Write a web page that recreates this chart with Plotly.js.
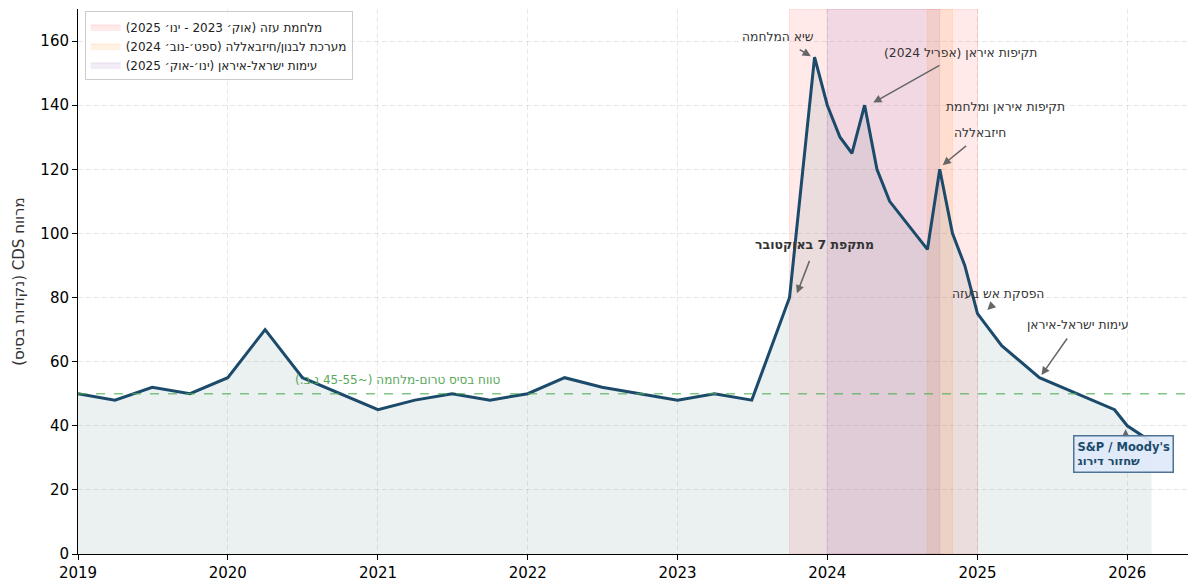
<!DOCTYPE html>
<html>
<head>
<meta charset="utf-8">
<script src="https://cdn.plot.ly/plotly-3.0.1.min.js"></script>
<style>html,body{margin:0;padding:0;background:#fff;}#chart{width:1191px;height:585px;}</style>
</head>
<body>
<div id="chart"></div>
<script>
// ---- data ----
const dates = ['2019-01-01','2019-04-01','2019-07-01','2019-10-01','2020-01-01','2020-04-01','2020-07-01','2020-10-01',
  '2021-01-01','2021-04-01','2021-07-01','2021-10-01','2022-01-01','2022-04-01','2022-07-01','2022-10-01',
  '2023-01-01','2023-04-01','2023-07-01','2023-10-01','2023-12-01','2024-01-01','2024-02-01','2024-03-01',
  '2024-04-01','2024-05-01','2024-06-01','2024-09-01','2024-10-01','2024-11-01','2024-12-01','2025-01-01',
  '2025-03-01','2025-06-01','2025-09-01','2025-12-01','2026-01-01','2026-03-01'];
const cdsValues = [50,48,52,50,55,70,55,50,45,48,50,48,50,55,52,50,48,50,48,80,155,140,130,125,140,120,110,95,120,100,90,75,65,55,50,45,40,35];

const bandNames = ['מלחמת עזה (אוק׳ 2023 - ינו׳ 2025)', 'מערכת לבנון/חיזבאללה (ספט׳-נוב׳ 2024)', 'עימות ישראל-איראן (ינו׳-אוק׳ 2025)'];
const bandStart = ['2023-10-01', '2024-09-01', '2024-01-01'];
const bandEnd = ['2025-01-01', '2024-11-01', '2024-10-01'];

const baselineValue = 50;
const baselineLabel = 'טווח בסיס טרום-מלחמה (~45-55 נ.ב.)';
const yTitle = 'מרווח CDS (נקודות בסיס)';
const yTicks = [0,20,40,60,80,100,120,140,160];

const notes = [
  {text: 'שיא המלחמה', x: '2023-09-03', y: 161.3},
  {text: 'תקיפות איראן (אפריל 2024)', x: '2024-11-20', y: 156.3},
  {text: 'תקיפות איראן ומלחמת', x: '2025-03-10', y: 139.4},
  {text: 'חיזבאללה', x: '2025-01-08', y: 131.3},
  {text: 'מתקפת 7 באוקטובר', x: '2023-12-02', y: 96.4, bold: true},
  {text: 'הפסקת אש בעזה', x: '2025-02-21', y: 81.1},
  {text: 'עימות ישראל-איראן', x: '2025-09-02', y: 71.4}
];
const arrows = [
  {ax: '2023-10-22', ay: 157.6, x: '2023-11-22', y: 155.3},
  {ax: '2024-10-04', ay: 152.7, x: '2024-04-22', y: 140.8},
  {ax: '2024-12-08', ay: 127.7, x: '2024-10-08', y: 121.3},
  {ax: '2023-11-20', ay: 91.9, x: '2023-10-19', y: 81.3},
  {ax: '2025-02-06', ay: 77.6, x: '2025-01-25', y: 76.1},
  {ax: '2025-08-10', ay: 67.7, x: '2025-06-06', y: 55.8},
  {ax: '2025-12-28', ay: 36.0, x: '2025-12-28', y: 38.9}
];
const ratingBox = {line1: "S&P / Moody's", line2: 'שחזור דירוג', x: '2025-12-22', y: 31.3};

// ---- styling ----
const rtl = s => '\u202B' + s + '\u202C';
const FONT = 'DejaVu Sans, Noto Sans, sans-serif';
const bandFill = ['rgba(255,0,0,0.085)', 'rgba(255,140,0,0.11)', 'rgba(140,80,170,0.11)'];
const bandLine = ['rgba(255,0,0,0.10)', 'rgba(255,140,0,0.14)', 'rgba(140,80,170,0.14)'];
const lineColor = '#1b4a6b';

const traces = [];
bandNames.forEach((n, i) => {
  traces.push({
    x: [bandStart[i], bandEnd[i], bandEnd[i], bandStart[i], bandStart[i]],
    y: [0, 0, 170, 170, 0],
    type: 'scatter', mode: 'lines', fill: 'toself',
    fillcolor: bandFill[i], line: {color: bandLine[i], width: 1},
    name: rtl(n), hoverinfo: 'skip'
  });
});
traces.push({
  x: dates, y: cdsValues, type: 'scatter', mode: 'lines',
  fill: 'tozeroy', fillcolor: 'rgba(40,95,105,0.095)',
  line: {color: lineColor, width: 3}, showlegend: false, name: 'CDS'
});

const annotations = [];
notes.forEach(n => annotations.push({
  x: n.x, y: n.y, xref: 'x', yref: 'y', showarrow: false,
  text: n.bold ? '<b>' + rtl(n.text) + '</b>' : rtl(n.text),
  font: {family: FONT, size: n.bold ? 12.5 : 12.3, color: '#333333'}
}));
arrows.forEach(a => annotations.push({
  x: a.x, y: a.y, ax: a.ax, ay: a.ay, xref: 'x', yref: 'y', axref: 'x', ayref: 'y',
  text: '', showarrow: true, arrowhead: 2, arrowsize: 1.1, arrowwidth: 1.5, arrowcolor: '#666666'
}));
annotations.push({
  x: ratingBox.x, y: ratingBox.y, xref: 'x', yref: 'y', showarrow: false, align: 'left',
  text: '<b>' + ratingBox.line1 + '<br>' + rtl(ratingBox.line2) + '</b>',
  font: {family: FONT, size: 11.5, color: '#1b4a6b'},
  bgcolor: 'rgba(222,233,248,0.92)', bordercolor: '#4f7396', borderwidth: 1.5, borderpad: 3
});
annotations.push({
  x: '2021-02-17', y: 54.3, xref: 'x', yref: 'y', showarrow: false,
  text: rtl(baselineLabel), font: {family: FONT, size: 12, color: '#5aa85a'}
});

const layout = {
  width: 1191, height: 585,
  margin: {l: 78, r: 3, t: 9, b: 31},
  paper_bgcolor: '#ffffff', plot_bgcolor: '#ffffff',
  font: {family: FONT, size: 15, color: '#000'},
  showlegend: true,
  legend: {x: 0.006, y: 0.9955, xanchor: 'left', yanchor: 'top',
    bgcolor: 'rgba(255,255,255,0.85)', bordercolor: '#cccccc', borderwidth: 1,
    font: {family: FONT, size: 12, color: '#222'}},
  xaxis: {
    type: 'date', range: ['2019-01-01', '2026-05-29'],
    tickvals: ['2019-01-01','2020-01-01','2021-01-01','2022-01-01','2023-01-01','2024-01-01','2025-01-01','2026-01-01'],
    ticktext: ['2019','2020','2021','2022','2023','2024','2025','2026'],
    showgrid: true, gridcolor: 'rgba(0,0,0,0.09)', griddash: '5px,3px', gridwidth: 1,
    showline: true, linecolor: '#000', linewidth: 1,
    ticks: 'outside', ticklen: 5, tickcolor: '#000',
    tickfont: {family: FONT, size: 15, color: '#000'}, zeroline: false
  },
  yaxis: {
    range: [0, 170], tickvals: yTicks,
    showgrid: true, gridcolor: 'rgba(0,0,0,0.09)', griddash: '5px,3px', gridwidth: 1,
    showline: true, linecolor: '#000', linewidth: 1,
    ticks: 'outside', ticklen: 5, tickcolor: '#000',
    tickfont: {family: FONT, size: 15, color: '#000'}, zeroline: false,
    title: {text: rtl(yTitle), font: {family: FONT, size: 15, color: '#333'}, standoff: 12}
  },
  shapes: [{
    type: 'line', xref: 'paper', x0: 0, x1: 1, yref: 'y', y0: baselineValue, y1: baselineValue,
    line: {color: 'rgba(76,175,80,0.7)', width: 1.5, dash: 'dash'}, layer: 'above'
  }],
  annotations: annotations
};

Plotly.newPlot('chart', traces, layout, {displayModeBar: false, staticPlot: true});
</script>
</body>
</html>
